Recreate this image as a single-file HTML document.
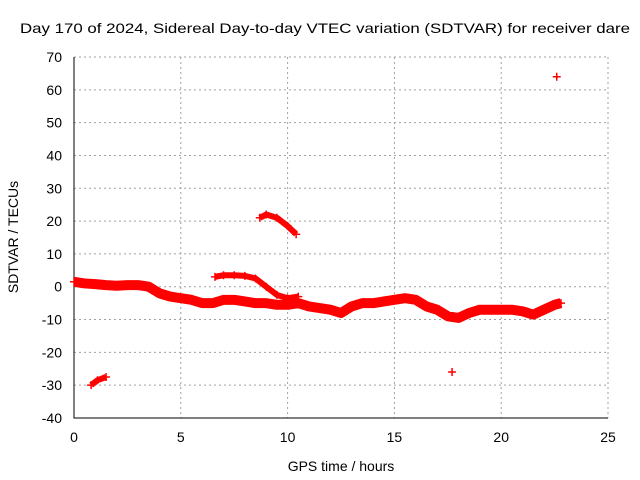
<!DOCTYPE html>
<html><head><meta charset="utf-8"><style>body{margin:0;background:#fff}svg{display:block}text{font-family:"Liberation Sans",sans-serif;font-size:14px;fill:#000}</style></head>
<body>
<svg id="c" width="640" height="480"></svg>
<script>
const xTicks=[0,5,10,15,20,25];
const yTicks=[-40,-30,-20,-10,0,10,20,30,40,50,60,70];
const mainX=[0,0.5,1,1.5,2,2.5,3,3.5,4,4.5,5,5.5,6,6.5,7,7.5,8,8.5,9,9.5,10,10.5,11,11.5,12,12.5,13,13.5,14,14.5,15,15.5,16,16.5,17,17.5,18,18.5,19,19.5,20,20.5,21,21.5,22,22.5,22.8];
const mainY=[1.5,1,0.8,0.5,0.3,0.5,0.5,0,-2,-3,-3.5,-4,-5,-5,-4,-4,-4.5,-5,-5,-5.5,-5.5,-5,-6,-6.5,-7,-8,-6,-5,-5,-4.5,-4,-3.5,-4,-6,-7,-9,-9.5,-8,-7,-7,-7,-7,-7.5,-8.5,-7,-5.5,-5];
const arcX=[6.6,7,7.5,8,8.5,9,9.5,10,10.5];
const arcY=[3,3.5,3.5,3.3,2.5,0,-2.5,-3.5,-3];
const highX=[8.7,9,9.5,10,10.4];
const highY=[21,22,21,18.5,16];
const lowX=[0.8,1.1,1.5];
const lowY=[-30,-28.5,-27.5];
const isoX=[17.7,22.6];
const isoY=[-26,64];
const L=74,R=608,T=57,B=418;
const sx=v=>L+(v-0)/25*(R-L);
const sy=v=>B-(v+40)/110*(B-T);
const svg=document.getElementById('c');
const NS='http://www.w3.org/2000/svg';
function mk(t,a){const e=document.createElementNS(NS,t);for(const k in a)e.setAttribute(k,a[k]);svg.appendChild(e);return e;}
xTicks.forEach(v=>{
 const g=mk('line',{x1:sx(v),x2:sx(v),y1:T,y2:B,stroke:'#a0a0a0','stroke-dasharray':'2,3'});
 
 
 const t=mk('text',{x:sx(v),y:B+24,'text-anchor':'middle'});t.textContent=v;
 
 
});
yTicks.forEach(v=>{
 const g=mk('line',{x1:L,x2:R,y1:sy(v),y2:sy(v),stroke:'#a0a0a0','stroke-dasharray':'2,3'});
 
 
 const t=mk('text',{x:L-12,y:sy(v)+5,'text-anchor':'end'});t.textContent=v;
 
 
});
const ax=mk('path',{d:`M${L},${T}V${B}H${R}`,stroke:'#000',fill:'none'});


function series(xs,ys,name,w){
 if(xs.length>1){const p=mk('polyline',{points:xs.map((x,i)=>sx(x)+','+sy(ys[i])).join(' '),stroke:'#f00','stroke-width':w,fill:'none','stroke-linejoin':'round'});
 
 }
 xs.forEach((x,i)=>{const X=sx(x),Y=sy(ys[i]);
  const m=mk('path',{d:`M${X-4},${Y}H${X+4}M${X},${Y-4}V${Y+4}`,stroke:'#f00','stroke-width':1.5});
  
  });
}
series(mainX,mainY,'main-band',10);
series(arcX,arcY,'arc-track',6);
series(highX,highY,'high-track',6);
series(lowX,lowY,'low-track',6);
series(isoX,isoY,'isolated',0);
const tt=mk('text',{x:20,y:33,textLength:610,lengthAdjust:'spacingAndGlyphs'});tt.textContent='Day 170 of 2024, Sidereal Day-to-day VTEC variation (SDTVAR) for receiver dare';


const xl=mk('text',{x:341,y:471,'text-anchor':'middle'});xl.textContent='GPS time / hours';


const yl=mk('text',{x:0,y:0,'text-anchor':'middle',transform:'translate(18,237) rotate(-90)'});yl.textContent='SDTVAR / TECUs';


</script>
</body></html>
